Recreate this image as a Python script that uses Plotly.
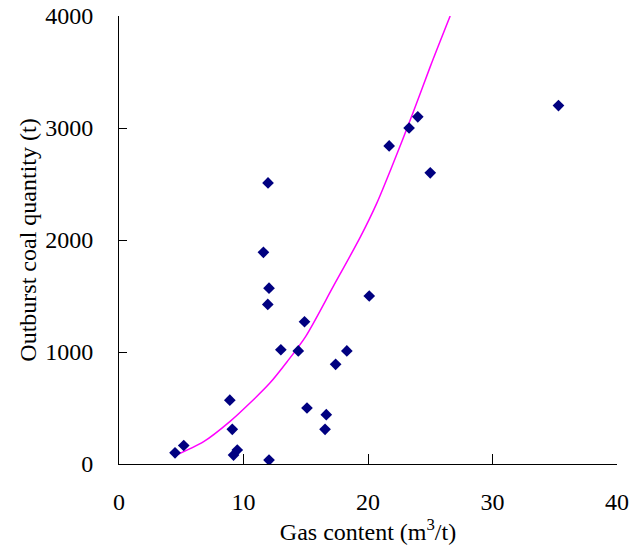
import plotly.graph_objects as go

gas_content = [4.5, 5.2, 8.9, 9.1, 9.2, 9.5, 11.6, 11.95, 11.97, 12.05, 12.05, 13.0, 14.4,
               14.9, 15.1, 16.55, 16.65, 17.4, 18.3, 20.1, 21.7, 23.3, 24.0, 25.0, 35.3]
outburst_qty = [100, 165, 570, 310, 80, 125, 1890, 1425, 2510, 1570, 35, 1020, 1010,
                1270, 500, 310, 440, 890, 1010, 1500, 2840, 3000, 3100, 2600, 3200]

trend_x = [4.5, 6.8, 8.9, 10.5, 12.1, 13.5, 15.0, 17.2, 19.4, 20.7, 21.9, 23.6, 25.0, 26.6]
trend_y = [74, 199, 378, 542, 720, 913, 1140, 1583, 2030, 2327, 2650, 3131, 3548, 4000]

x_ticks = [0, 10, 20, 30, 40]
y_ticks = [0, 1000, 2000, 3000, 4000]

font = "Liberation Serif, Times New Roman, serif"

fig = go.Figure()
fig.add_trace(go.Scatter(x=trend_x, y=trend_y, mode="lines",
                         line=dict(color="#FF00FF", width=1.5, shape="spline",
                                   smoothing=0.8),
                         hoverinfo="skip", showlegend=False))
fig.add_trace(go.Scatter(x=gas_content, y=outburst_qty, mode="markers",
                         marker=dict(symbol="diamond", size=9, color="#000080",
                                     line=dict(width=0)),
                         showlegend=False))

fig.update_layout(
    width=630, height=547,
    margin=dict(l=119, r=13, t=16, b=83),
    paper_bgcolor="white", plot_bgcolor="white",
    font=dict(family=font, size=24, color="black"),
    xaxis=dict(range=[0, 40], tickvals=x_ticks, showgrid=False, zeroline=False,
               showline=True, linecolor="black", linewidth=1,
               ticks="inside", ticklen=10, tickcolor="black",
               tickfont=dict(size=24), automargin=False,
               title=dict(text="Gas content (m<sup>3</sup>/t)", standoff=4,
                          font=dict(size=24)),
               ticklabelstandoff=16),
    yaxis=dict(range=[0, 4000], tickvals=y_ticks, showgrid=False, zeroline=False,
               showline=True, linecolor="black", linewidth=1,
               ticks="inside", ticklen=8, tickcolor="black",
               tickfont=dict(size=24), automargin=False,
               title=dict(text="Outburst coal quantity (t)", standoff=1,
                          font=dict(size=24)),
               ticklabelstandoff=20),
)

fig.write_html("out.html")
